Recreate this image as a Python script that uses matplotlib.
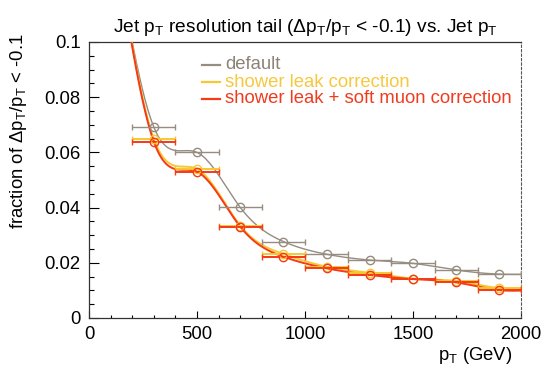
import numpy as np
import matplotlib
matplotlib.use("Agg")
import matplotlib.pyplot as plt
from matplotlib.ticker import MultipleLocator

plt.rcParams['font.family'] = ['Liberation Sans', 'DejaVu Sans']
plt.rcParams['mathtext.fontset'] = 'custom'
plt.rcParams['mathtext.rm'] = 'Liberation Sans'
plt.rcParams['mathtext.it'] = 'Liberation Sans'

# ---- data ----
pt = [100, 300, 500, 700, 900, 1100, 1300, 1500, 1700, 1900, 2100]
pt_err = [100] * len(pt)
frac_default = [0.145, 0.0692, 0.0600, 0.0401, 0.0277, 0.0231, 0.0210, 0.0198, 0.0174, 0.0159, 0.0160]
frac_leak = [0.148, 0.0649, 0.0540, 0.0335, 0.0232, 0.0186, 0.0164, 0.0143, 0.0134, 0.0108, 0.0106]
frac_leak_muon = [0.148, 0.0639, 0.0530, 0.0331, 0.0222, 0.0180, 0.0156, 0.0141, 0.0129, 0.0101, 0.0105]
labels = ["default", "shower leak correction", "shower leak + soft muon correction"]
colors = ["#968c80", "#f8c832", "#f43a16"]
text_colors = ["#8c8276", "#f5c840", "#f03c1e"]

def natural_spline(x, y, xs):
    x = np.asarray(x, float); y = np.asarray(y, float)
    n = len(x)
    h = np.diff(x)
    A = np.zeros((n, n)); b = np.zeros(n)
    A[0, 0] = 1; A[-1, -1] = 1
    for i in range(1, n - 1):
        A[i, i - 1] = h[i - 1]
        A[i, i] = 2 * (h[i - 1] + h[i])
        A[i, i + 1] = h[i]
        b[i] = 3 * ((y[i + 1] - y[i]) / h[i] - (y[i] - y[i - 1]) / h[i - 1])
    c = np.linalg.solve(A, b)
    out = np.empty_like(xs)
    for k, xv in enumerate(xs):
        i = min(max(np.searchsorted(x, xv) - 1, 0), n - 2)
        dx = xv - x[i]
        bi = (y[i + 1] - y[i]) / h[i] - h[i] * (2 * c[i] + c[i + 1]) / 3
        di = (c[i + 1] - c[i]) / (3 * h[i])
        out[k] = y[i] + bi * dx + c[i] * dx ** 2 + di * dx ** 3
    return out

FS = 13.3

fig = plt.figure(figsize=(5.47, 3.68), dpi=100)
ax = fig.add_axes([89 / 547, 1 - 318 / 368, 432 / 547, 276 / 368])

xs = np.linspace(pt[0], pt[-1], 800)
series = [frac_default, frac_leak, frac_leak_muon]
lws = [1.0, 1.4, 1.4]
for ys, col, lw in zip(series, colors, lws):
    ax.plot(xs, natural_spline(pt, ys, xs), color=col, lw=lw, zorder=3)
    ax.errorbar(pt, ys, xerr=pt_err, fmt='o', mfc='none', mec=col, ms=6, mew=1.0,
                ecolor=col, elinewidth=lw, capsize=2.5, capthick=1.0, zorder=4)

ax.set_xlim(0, 2000)
ax.set_ylim(0, 0.1)
ax.xaxis.set_major_locator(MultipleLocator(500))
ax.xaxis.set_minor_locator(MultipleLocator(100))
ax.yaxis.set_minor_locator(MultipleLocator(0.005))
ax.set_yticks([0, 0.02, 0.04, 0.06, 0.08, 0.1])
ax.set_yticklabels(["0", "0.02", "0.04", "0.06", "0.08", "0.1"])
ax.tick_params(which='both', direction='in', width=0.8, labelsize=FS, top=False, right=False)
ax.tick_params(axis='y', which='major', length=7.2, pad=6)
ax.tick_params(axis='y', which='minor', length=3.6)
ax.tick_params(axis='x', which='major', length=5.0, pad=6)
ax.tick_params(axis='x', which='minor', length=2.5)
for s in ['left', 'bottom', 'top']:
    ax.spines[s].set_linewidth(0.9)
    ax.spines[s].set_color('#333333')
ax.spines['right'].set_linestyle((0, (2, 2)))
ax.spines['right'].set_linewidth(0.8)
ax.spines['right'].set_color('#555555')

ax.set_title(r"Jet p$_\mathrm{T}$ resolution tail ($\Delta$p$_\mathrm{T}$/p$_\mathrm{T}$ < -0.1) vs. Jet p$_\mathrm{T}$",
             fontsize=13.8, pad=7)
ax.set_ylabel(r"fraction of $\Delta$p$_\mathrm{T}$/p$_\mathrm{T}$ < -0.1", fontsize=FS)
ax.yaxis.set_label_coords(-0.140, 1.033)
ax.yaxis.label.set_horizontalalignment('right')
ax.set_xlabel(r"p$_\mathrm{T}$ (GeV)", fontsize=FS)
ax.xaxis.set_label_coords(0.979, -0.098)
ax.xaxis.label.set_horizontalalignment('right')

# legend (manual, ROOT-style)
leg_y = [0.9167, 0.855, 0.7935]
x0, x1, xt = (202 - 89) / 432, (220 - 89) / 432, (225 - 89) / 432
for lab, col, tcol, lw, y in zip(labels, colors, text_colors, lws, leg_y):
    ax.plot([x0, x1], [y, y], color=col, lw=max(lw, 1.6), transform=ax.transAxes, clip_on=False)
    ax.text(xt, y, lab, color=tcol, fontsize=FS, va='center', ha='left', transform=ax.transAxes)

fig.savefig("out.png", dpi=100)
